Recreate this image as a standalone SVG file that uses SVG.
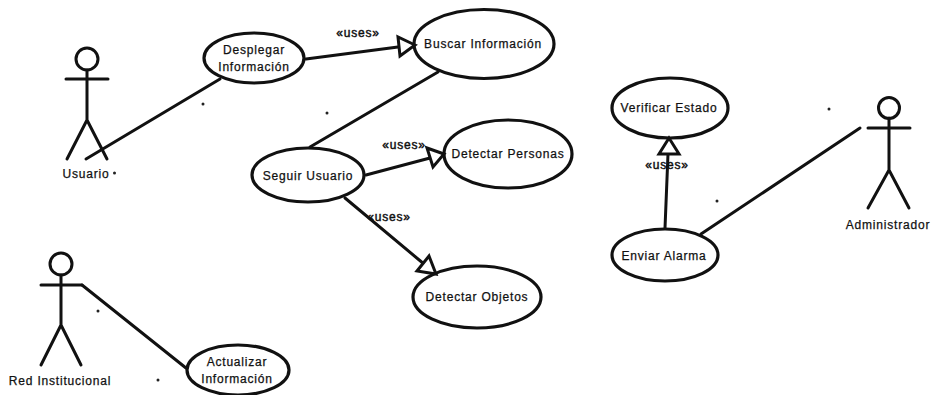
<svg xmlns="http://www.w3.org/2000/svg" width="934" height="395" viewBox="0 0 934 395">
<style>
.s{fill:none;stroke:#111;stroke-width:3;stroke-linecap:round;stroke-linejoin:round}
.e{fill:#fff;stroke:#111;stroke-width:3.2}
.a{fill:#fff;stroke:#111;stroke-width:3;stroke-linejoin:miter}
.t{font-family:"Liberation Sans",Arial,sans-serif;font-size:12px;fill:#111;stroke:#111;stroke-width:.25;text-anchor:middle;letter-spacing:.8px}
.u{stroke-width:.45}
.d{fill:#222}
</style>
<rect width="934" height="395" fill="#fff"/>
<g id="actor-usuario">
<circle class="s" cx="87" cy="59" r="11"/>
<path class="s" d="M66 79H108M87 70V120M87 120L67 159M87 120L107 159"/>
<text class="t" x="86" y="178">Usuario</text>
</g>
<g id="actor-red">
<circle class="s" cx="61" cy="264" r="11"/>
<path class="s" d="M41 285H82M61 275V325M61 325L41 365M61 325L81 365"/>
<text class="t" x="60" y="385">Red Institucional</text>
</g>
<g id="actor-administrador">
<circle class="s" cx="889" cy="108" r="10.500"/>
<path class="s" d="M868 128H910M889 118V170M889 170L868 208M889 170L909 208"/>
<text class="t" x="888" y="229">Administrador</text>
</g>
<g id="uc-desplegar">
<ellipse class="e" cx="254" cy="58" rx="50" ry="25"/>
<text class="t" x="254" y="54">Desplegar</text>
<text class="t" x="254" y="71">Información</text>
</g>
<g id="uc-buscar">
<ellipse class="e" cx="484" cy="44" rx="70" ry="34.500"/>
<text class="t" x="483" y="48">Buscar Información</text>
</g>
<g id="uc-seguir">
<ellipse class="e" cx="308" cy="175" rx="56" ry="27"/>
<text class="t" x="308" y="180">Seguir Usuario</text>
</g>
<g id="uc-personas">
<ellipse class="e" cx="508" cy="154" rx="64" ry="34"/>
<text class="t" x="508" y="158">Detectar Personas</text>
</g>
<g id="uc-objetos">
<ellipse class="e" cx="477" cy="297" rx="64" ry="31"/>
<text class="t" x="477" y="301">Detectar Objetos</text>
</g>
<g id="uc-verificar">
<ellipse class="e" cx="670" cy="108" rx="58" ry="30"/>
<text class="t" x="669" y="112">Verificar Estado</text>
</g>
<g id="uc-enviar">
<ellipse class="e" cx="665" cy="255" rx="53" ry="26"/>
<text class="t" x="664" y="260">Enviar Alarma</text>
</g>
<g id="uc-actualizar">
<ellipse class="e" cx="238" cy="370" rx="51" ry="25"/>
<text class="t" x="237" y="366">Actualizar</text>
<text class="t" x="237" y="383">Información</text>
</g>
<g id="connectors">
<path class="s" d="M86 159L220 79"/>
<path class="s" d="M306 59L398 47"/>
<path class="a" d="M415 45L398 37L400 56Z"/>
<path class="s" d="M438 72L310 147"/>
<path class="s" d="M366 175L430 158"/>
<path class="a" d="M444 154L427 148L433 167Z"/>
<path class="s" d="M345 198L424 264"/>
<path class="a" d="M436 274L429 256L417 271Z"/>
<path class="s" d="M665 228L668 154"/>
<path class="a" d="M669 138L659 154L679 154Z"/>
<path class="s" d="M701 234L860 128"/>
<path class="s" d="M82 285L186 368"/>
</g>
<g id="uses-labels">
<text class="t u" x="358" y="37">«uses»</text>
<text class="t u" x="404" y="149">«uses»</text>
<text class="t u" x="389" y="221">«uses»</text>
<text class="t u" x="667" y="169">«uses»</text>
</g>
<g id="specks">
<circle class="d" cx="203" cy="104" r="1.500"/>
<circle class="d" cx="114.500" cy="173" r="1.500"/>
<circle class="d" cx="327" cy="113" r="1.500"/>
<circle class="d" cx="829" cy="109" r="1.500"/>
<circle class="d" cx="717" cy="201" r="1.500"/>
<circle class="d" cx="98" cy="311" r="1.500"/>
<circle class="d" cx="158" cy="380" r="1.500"/>
</g>
</svg>
